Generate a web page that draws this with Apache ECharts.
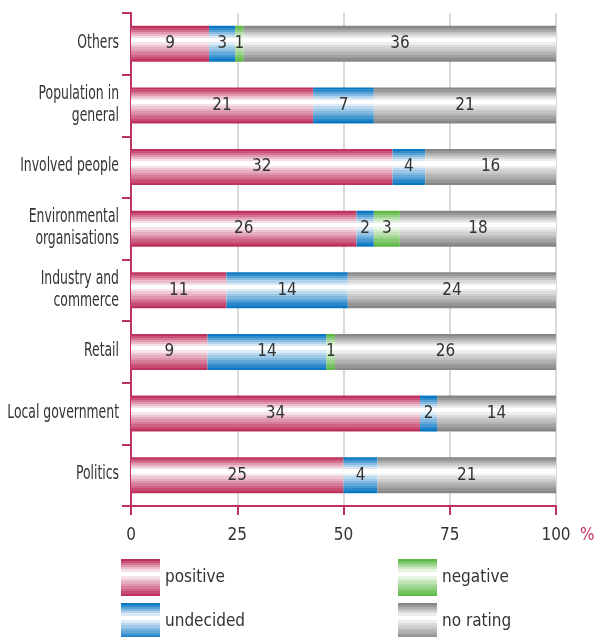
<!DOCTYPE html>
<html>
<head>
<meta charset="utf-8">
<script src="https://cdn.jsdelivr.net/npm/echarts@6/dist/echarts.min.js"></script>
<style>
html,body{margin:0;padding:0;background:#fff;}
#c{width:594px;height:637px;}
</style>
</head>
<body>
<div id="c"></div>
<script>
const categories = ['Others', 'Population in\ngeneral', 'Involved people', 'Environmental\norganisations', 'Industry and\ncommerce', 'Retail', 'Local government', 'Politics'];
const positive  = [9, 21, 32, 26, 11, 9, 34, 25];
const undecided = [3, 7, 4, 2, 14, 14, 2, 4];
const negative  = [1, 0, 0, 3, 0, 1, 0, 0];
const noRating  = [36, 21, 16, 18, 24, 26, 14, 21];
const xTicks = [0, 25, 50, 75, 100];

const FONT = '"DejaVu Sans Condensed", "Liberation Sans Narrow", "DejaVu Sans", sans-serif';
const TEXT = '#333333';
const AXIS = '#c0325e';

function mix(hex, f) {
  const r = parseInt(hex.slice(1,3),16), g = parseInt(hex.slice(3,5),16), b = parseInt(hex.slice(5,7),16);
  const m = c => Math.round(c + (255 - c) * f);
  return 'rgb(' + m(r) + ',' + m(g) + ',' + m(b) + ')';
}
function striped(hex) {
  const top = [0, 0.15, 0.32, 0.5, 0.68, 0.84];
  const bot = [0.86, 0.72, 0.6, 0.48, 0.36, 0.24, 0.12, 0];
  const stops = [];
  let pos = 0;
  const tH = 0.34 / top.length;
  top.forEach(f => { stops.push({offset: pos, color: mix(hex, f)}); pos += tH; stops.push({offset: pos, color: mix(hex, f)}); });
  stops.push({offset: pos, color: '#ffffff'}); pos = 0.46; stops.push({offset: pos, color: '#ffffff'});
  const bH = 0.54 / bot.length;
  bot.forEach(f => { stops.push({offset: pos, color: mix(hex, f)}); pos = Math.min(1, pos + bH); stops.push({offset: pos, color: mix(hex, f)}); });
  return new echarts.graphic.LinearGradient(0, 0, 0, 1, stops);
}

const totals = positive.map((v, i) => v + undecided[i] + negative[i] + noRating[i]);
const pct = arr => arr.map((v, i) => ({value: v / totals[i] * 100, count: v}));

function mkSeries(name, arr, hex) {
  return {
    name: name, type: 'bar', stack: 'all', barWidth: 36,
    data: pct(arr),
    itemStyle: {color: striped(hex)},
    label: {
      show: true, position: 'inside', color: TEXT, fontFamily: FONT, fontSize: 17,
      formatter: p => p.data.count > 0 ? String(p.data.count) : ''
    },
    emphasis: {disabled: true}
  };
}

function legendAt(name, left, top) {
  return {data: [name], orient: 'vertical', left: left, top: top, padding: 0,
    itemWidth: 39, itemHeight: 37, itemGap: 7, icon: 'rect', selectedMode: false,
    textStyle: {color: TEXT, fontFamily: FONT, fontSize: 17}};
}

const chart = echarts.init(document.getElementById('c'), null, {renderer: 'canvas'});
const pctMark = {type: 'text', left: 580, top: 527, style: {text: '%', fill: AXIS, font: '17px ' + FONT}};
chart.setOption({
  animation: false,
  grid: {left: 131, right: 38, top: 13, bottom: 131, containLabel: false, outerBoundsMode: 'none'},
  xAxis: {
    type: 'value', min: 0, max: 100, interval: 25,
    axisLine: {show: true, lineStyle: {color: AXIS, width: 2}},
    axisTick: {show: true, length: 9, lineStyle: {color: AXIS, width: 2}},
    axisLabel: {color: TEXT, fontFamily: FONT, fontSize: 17, margin: 21,
      formatter: v => xTicks.indexOf(v) >= 0 ? String(v) : ''},
    splitLine: {show: true, lineStyle: {color: '#d9d9d9', width: 2}}
  },
  yAxis: {
    type: 'category', data: categories, inverse: true,
    axisLine: {show: true, lineStyle: {color: AXIS, width: 2}},
    axisTick: {show: true, length: 9, lineStyle: {color: AXIS, width: 2}},
    axisLabel: {show: false},
    splitLine: {show: false}
  },
  legend: [
    legendAt('positive', 121, 559),
    legendAt('undecided', 121, 603),
    legendAt('negative', 398, 559),
    legendAt('no rating', 398, 603)
  ],
  graphic: [pctMark],
  series: [
    mkSeries('positive', positive, '#c0325e'),
    mkSeries('undecided', undecided, '#0a77c2'),
    mkSeries('negative', negative, '#5fb946'),
    mkSeries('no rating', noRating, '#878787')
  ]
});

// Category labels: narrow, tall type like the original, placed through the category axis scale
const catLabels = categories.map((c, i) => ({
  type: 'text', silent: true,
  x: 119, y: chart.convertToPixel({yAxisIndex: 0}, i) - 1,
  scaleX: 0.69, scaleY: 1,
  style: {text: c, align: 'right', verticalAlign: 'middle', fill: TEXT,
          font: '20px ' + FONT, lineHeight: 22}
}));
chart.setOption({graphic: [pctMark].concat(catLabels)}, {replaceMerge: ['graphic']});
</script>
</body>
</html>
